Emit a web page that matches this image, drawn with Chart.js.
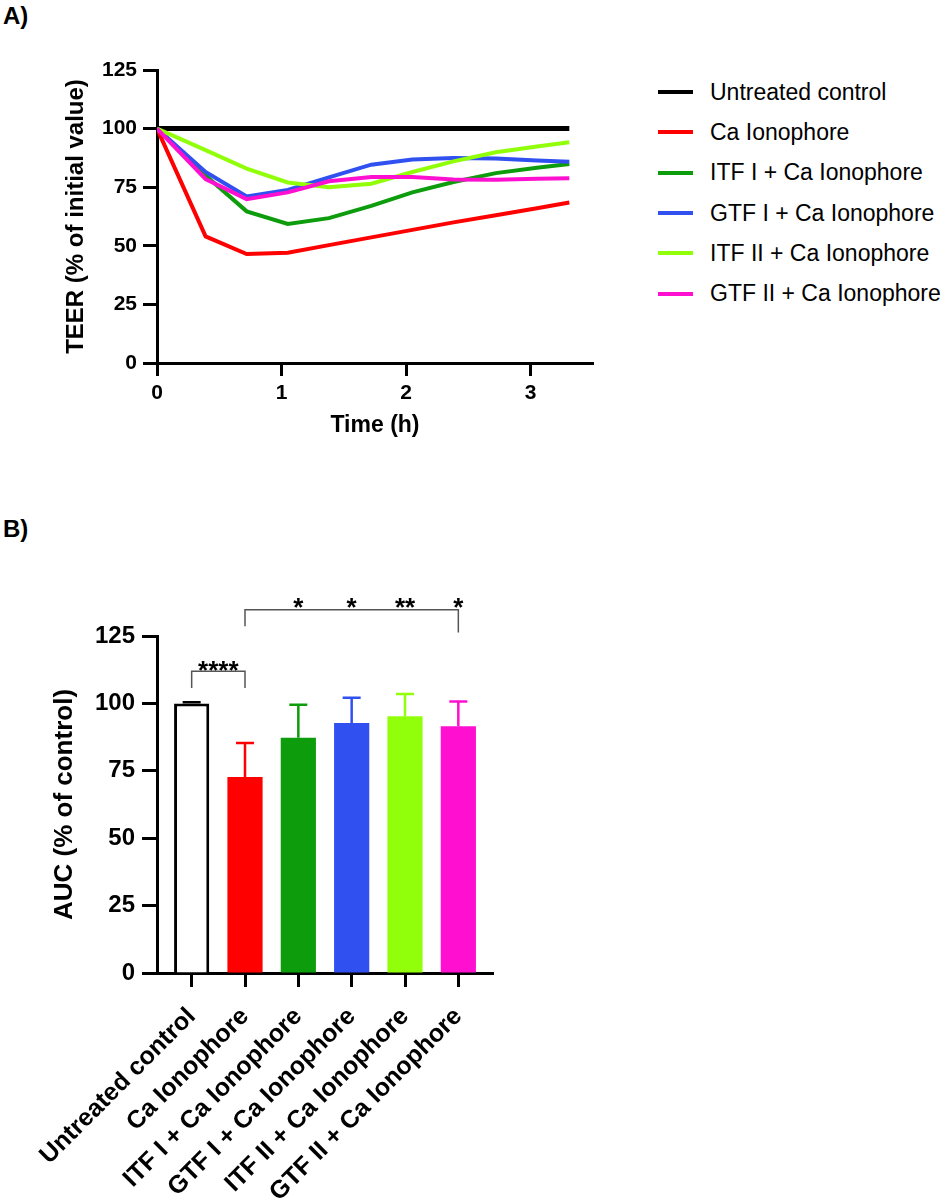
<!DOCTYPE html>
<html>
<head>
<meta charset="utf-8">
<script src="https://cdn.jsdelivr.net/npm/chart.js@4.4.1/dist/chart.umd.min.js"></script>
<style>
    html, body { margin: 0; padding: 0; background: #fff; }
    body { width: 949px; height: 1199px; position: relative; overflow: hidden; font-family: 'Liberation Sans', Arial, sans-serif; color: #000; }
    .panel { position: absolute; left: 3px; font-weight: bold; font-size: 24px; line-height: 24px; }
    #lineWrap { position: absolute; left: 0; top: 0; width: 620px; height: 450px; }
    #barWrap { position: absolute; left: 0; top: 480px; width: 520px; height: 719px; }
    #legend { position: absolute; left: 658px; top: 72px; }
    .item { display: flex; align-items: center; height: 40.3px; font-size: 23px; white-space: nowrap; }
    .swatch { width: 35px; height: 4px; margin-right: 17px; }
</style>
</head>
<body>
<div class="panel" style="top:4px">A)</div>
<div class="panel" style="top:517px">B)</div>
<div id="lineWrap"><canvas id="lineChart"></canvas></div>
<div id="legend"></div>
<div id="barWrap"><canvas id="barChart"></canvas></div>

<script>
// ---- panel A: TEER over time ----
const times = [0, 0.39, 0.72, 1.05, 1.38, 1.72, 2.05, 2.38, 2.72, 3.05, 3.31];
const groups = ["Untreated control", "Ca Ionophore", "ITF I + Ca Ionophore", "GTF I + Ca Ionophore", "ITF II + Ca Ionophore", "GTF II + Ca Ionophore"];
const teerControl = [100, 100, 100, 100, 100, 100, 100, 100, 100, 100, 100];
const teerCa      = [100, 54, 46.5, 47, 50.3, 53.6, 56.8, 60, 63, 66, 68.5];
const teerItf1    = [100, 80, 64.7, 59.3, 61.8, 67, 72.8, 77.2, 81, 83.3, 84.9];
const teerGtf1    = [100, 81.5, 71, 73.8, 79.2, 84.6, 86.8, 87.5, 87.2, 86.4, 85.9];
const teerItf2    = [100, 90.8, 82.9, 77, 75, 76.5, 81.5, 86, 89.9, 92.4, 94.2];
const teerGtf2    = [100, 78.5, 69.9, 72.8, 77.5, 79.3, 79.4, 78.3, 78.2, 78.6, 78.8];

// ---- panel B: AUC ----
const aucMean = [100, 72.7, 87.3, 92.7, 95.2, 91.5];
const aucErr  = [0.4, 12.6, 12.2, 9.4, 8.3, 9.2];

const colors = ["#000000", "#ff0000", "#0c9c0c", "#3050f0", "#92ff0a", "#ff10d0"];
const FONT = "'Liberation Sans', Arial, sans-serif";

Chart.defaults.font.family = FONT;
Chart.defaults.color = "#000";

const axisBase = {
    grid: { drawOnChartArea: false, tickLength: 14, tickWidth: 3, tickColor: "#000" },
    border: { width: 3, color: "#000" }
};

const teerSeries = [teerControl, teerCa, teerItf1, teerGtf1, teerItf2, teerGtf2];

const lineChart = new Chart(document.getElementById("lineChart"), {
    type: "line",
    data: {
        datasets: teerSeries.map((vals, i) => ({
            label: groups[i],
            data: vals.map((v, j) => ({ x: times[j], y: v })),
            borderColor: colors[i],
            borderWidth: i === 0 ? 5 : 4,
            pointRadius: 0,
            tension: 0,
            fill: false,
            order: 5 - i
        }))
    },
    options: {
        responsive: true,
        maintainAspectRatio: false,
        animation: false,
        layout: { padding: { left: 58, top: 70, right: 27, bottom: 9 } },
        plugins: { legend: { display: false }, tooltip: { enabled: false } },
        scales: {
            x: {
                ...axisBase,
                type: "linear",
                min: 0,
                max: 3.5,
                grid: { ...axisBase.grid, tickLength: 13 },
                ticks: { stepSize: 1, includeBounds: false, padding: 5, font: { size: 21, weight: "bold" } },
                title: { display: true, text: "Time (h)", font: { size: 23, weight: "bold" }, padding: { top: 4, bottom: 2 } },
                afterFit: s => { s.height = 78; }
            },
            y: {
                ...axisBase,
                min: 0,
                max: 125,
                ticks: { stepSize: 25, padding: 6, font: { size: 21, weight: "bold" } },
                title: { display: true, text: "TEER (% of initial value)", font: { size: 24, weight: "bold" }, padding: { top: 4, bottom: 4 } },
                afterFit: s => { s.width = 99; }
            }
        }
    }
});

// html legend from the line datasets
const legendEl = document.getElementById("legend");
lineChart.data.datasets.forEach(ds => {
    const row = document.createElement("div");
    row.className = "item";
    row.innerHTML = `<span class="swatch" style="background:${ds.borderColor}"></span><span>${ds.label}</span>`;
    legendEl.appendChild(row);
});

// significance marks for panel B (group index, y value)
const brackets = [
    { from: 0, to: 1, level: 111.9, legFrom: 105.7, legTo: 105.7 },
    { from: 1, to: 5, level: 134.7, legFrom: 128.6, legTo: 126.3 }
];
const stars = [
    { at: 0.5, text: "****", level: 114.4 },
    { at: 2, text: "*", level: 137.8 },
    { at: 3, text: "*", level: 137.8 },
    { at: 4, text: "**", level: 137.8 },
    { at: 5, text: "*", level: 137.8 }
];

const errorBars = {
    id: "errorBars",
    afterDatasetsDraw(chart) {
        const { ctx } = chart;
        const y = chart.scales.y;
        const meta = chart.getDatasetMeta(0);
        ctx.save();
        ctx.lineWidth = 2.5;
        meta.data.forEach((bar, i) => {
            const top = y.getPixelForValue(aucMean[i] + aucErr[i]);
            ctx.strokeStyle = colors[i];
            ctx.beginPath();
            ctx.moveTo(bar.x, bar.y);
            ctx.lineTo(bar.x, top);
            ctx.moveTo(bar.x - 9, top);
            ctx.lineTo(bar.x + 9, top);
            ctx.stroke();
        });
        ctx.restore();
    }
};

const significance = {
    id: "significance",
    afterDraw(chart) {
        const { ctx } = chart;
        const { x, y } = chart.scales;
        ctx.save();
        ctx.strokeStyle = "#555";
        ctx.lineWidth = 1.5;
        brackets.forEach(b => {
            const x1 = x.getPixelForValue(b.from), x2 = x.getPixelForValue(b.to);
            const yl = y.getPixelForValue(b.level);
            ctx.beginPath();
            ctx.moveTo(x1, y.getPixelForValue(b.legFrom));
            ctx.lineTo(x1, yl);
            ctx.lineTo(x2, yl);
            ctx.lineTo(x2, y.getPixelForValue(b.legTo));
            ctx.stroke();
        });
        const size = 26;
        ctx.fillStyle = "#000";
        ctx.font = `bold ${size}px ${FONT}`;
        ctx.textAlign = "center";
        ctx.textBaseline = "alphabetic";
        stars.forEach(s => {
            ctx.fillText(s.text, x.getPixelForValue(s.at), y.getPixelForValue(s.level) + size * 0.55);
        });
        ctx.restore();
    }
};

new Chart(document.getElementById("barChart"), {
    type: "bar",
    data: {
        datasets: [{
            label: "AUC",
            data: aucMean.map((v, i) => ({ x: i, y: v })),
            backgroundColor: colors.map((c, i) => i === 0 ? "#ffffff" : c),
            borderColor: colors,
            borderWidth: aucMean.map((v, i) => i === 0 ? 3 : 0),
            borderSkipped: "start",
            barPercentage: 0.66,
            categoryPercentage: 1
        }]
    },
    options: {
        responsive: true,
        maintainAspectRatio: false,
        animation: false,
        layout: { padding: { left: 45, top: 156, right: 27, bottom: 0 } },
        plugins: { legend: { display: false }, tooltip: { enabled: false } },
        scales: {
            x: {
                ...axisBase,
                type: "linear",
                min: -0.65,
                max: 5.65,
                offset: false,
                grid: { ...axisBase.grid, offset: false },
                ticks: {
                    stepSize: 1,
                    includeBounds: false,
                    autoSkip: false,
                    minRotation: 45,
                    maxRotation: 45,
                    padding: 15,
                    font: { size: 25, weight: "bold" },
                    callback: v => groups[v]
                },
                afterFit: s => { s.height = 226; }
            },
            y: {
                ...axisBase,
                min: 0,
                max: 125,
                grid: { ...axisBase.grid, tickLength: 15 },
                ticks: { stepSize: 25, padding: 7, font: { size: 24, weight: "bold" } },
                title: { display: true, text: "AUC (% of control)", font: { size: 26, weight: "bold" }, padding: { top: 4, bottom: 4 } },
                afterFit: s => { s.width = 112; }
            }
        }
    },
    plugins: [errorBars, significance]
});
</script>
</body>
</html>
